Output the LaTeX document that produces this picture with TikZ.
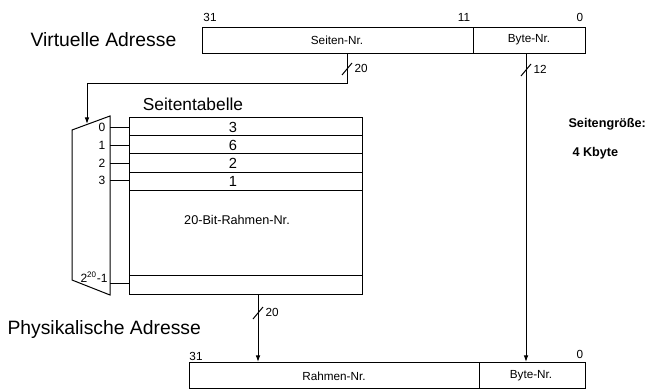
\documentclass[tikz,border=0pt]{standalone}
\usepackage{fontspec}
\setmainfont{Liberation Sans}
\usetikzlibrary{arrows.meta}
\tikzset{
  lbl/.style={inner sep=0pt,font=\fontsize{8.8}{10}\selectfont},
  big/.style={inner sep=0pt,font=\fontsize{14.5}{16}\selectfont},
  entry/.style={inner sep=0pt,font=\fontsize{11}{12}\selectfont},
  wire/.style={-{Latex[length=5pt,width=3.5pt]}},
}
% slash mark on a bus line
\newcommand{\busmark}[2]{\draw (#1)++(-5,6) -- ++(10,-12);
  \node[lbl,anchor=west] at ($(#1)+(7,-1)$) {#2};}
\usetikzlibrary{calc}
\begin{document}
\begin{tikzpicture}[x=0.75pt,y=-0.75pt,line width=0.75pt]
  \useasboundingbox (0,0) rectangle (666,389);
  % virtual address
  \node[big,anchor=west] (vtitle) at (30,40) {Virtuelle Adresse};
  \draw (202,27) rectangle (585,53);
  \draw (473,27) -- (473,53);
  \node[lbl] (v31) at (210,17) {31};
  \node[lbl] (v11) at (464,17) {11};
  \node[lbl] (v0) at (580,17) {0};
  \node[lbl] (vpage) at (337,40) {Seiten-Nr.};
  \node[lbl] (vbyte) at (529,40) {Byte-Nr.};
  % page table
  \node[big,font=\fontsize{13}{14}\selectfont] (ttitle) at (193,104) {Seitentabelle};
  \draw (129,117) rectangle (362,294);
  \foreach \y in {135,153,172} \draw (129,\y) -- (362,\y);
  \foreach \y in {190,275} \draw[line width=0.5pt] (129,\y) -- (362,\y);
  \node[entry] (e0) at (233,127) {3};
  \node[entry] (e1) at (233,145) {6};
  \node[entry] (e2) at (233,163) {2};
  \node[entry] (e3) at (233,181) {1};
  \node[lbl,font=\fontsize{9.5}{11}\selectfont] (frame) at (237,220) {20-Bit-Rahmen-Nr.};
  % decoder
  \draw (72,130) -- (110,116) -- (110,295) -- (72,280) -- cycle;
  \foreach \i/\y in {0/127,1/145,2/163,3/180} {
    \node[lbl,font=\fontsize{9}{10}\selectfont] (d\i) at (102,\y) {\i};
    \draw[line width=0.5pt] (110,\y) -- (129,\y);
  }
  \node[lbl,font=\fontsize{9}{10}\selectfont] (dlast) at (94,277) {2\textsuperscript{20}-1};
  \draw[line width=0.5pt] (110,283) -- (129,283);
  % physical address
  \node[big,anchor=west] (ptitle) at (7,329) {Physikalische Adresse};
  \draw (189,362) rectangle (585,388);
  \draw (479,362) -- (479,388);
  \node[lbl] (p31) at (196,356) {31};
  \node[lbl] (p0) at (580,354) {0};
  \node[lbl] (pframe) at (334,376) {Rahmen-Nr.};
  \node[lbl] (pbyte) at (531,376) {Byte-Nr.};
  % wires
  \coordinate (a1) at (347,53);
  \coordinate (a2) at (87,124);
  \coordinate (b1) at (526,53);
  \coordinate (b2) at (526,362);
  \coordinate (c1) at (258,294);
  \coordinate (c2) at (258,362);
  \draw[wire] (a1) -- (a1|-0,83) -- (a2|-0,83) -- (a2);
  \draw[wire] (b1) -- (b2);
  \draw[wire] (c1) -- (c2);
  \busmark{347,69}{20}
  \busmark{526,70}{12}
  \busmark{258,313}{20}
  % page size
  \node[lbl,font=\bfseries\fontsize{9.5}{11}\selectfont,anchor=west] (size) at (568,124) {Seitengröße:};
  \node[lbl,font=\bfseries\fontsize{9.5}{11}\selectfont,anchor=west] (kb) at (572,153) {4 Kbyte};
\end{tikzpicture}
\end{document}
